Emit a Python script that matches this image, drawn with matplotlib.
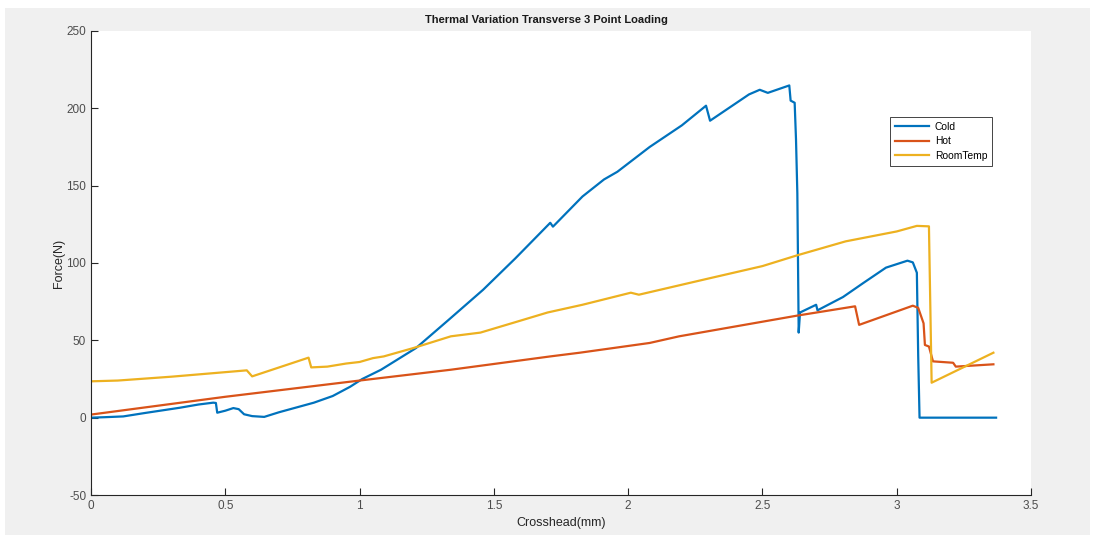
import matplotlib.pyplot as plt
from matplotlib.patches import Rectangle

# crosshead (mm) vs force (N)
cold_x = [0, 0.05, 0.12, 0.2, 0.33, 0.40, 0.455, 0.465, 0.47, 0.50, 0.53, 0.55, 0.57, 0.60, 0.645,
          0.70, 0.83, 0.90, 0.965, 1.01, 1.08, 1.21, 1.33, 1.46, 1.58, 1.71, 1.72, 1.83, 1.91, 1.96,
          2.08, 2.2, 2.29, 2.305, 2.45, 2.49, 2.52, 2.57, 2.6, 2.605, 2.62, 2.625, 2.63, 2.635, 2.64,
          2.7, 2.705, 2.8, 2.875, 2.96, 3.04, 3.06, 3.075, 3.08, 3.085, 3.37]
cold_y = [0, 0.3, 0.8, 3, 6.4, 8.5, 9.7, 9.5, 3.2, 4.5, 6.2, 5.5, 2.2, 1, 0.5,
          3.5, 9.7, 14, 20, 25, 31, 45, 63, 82.7, 103, 126, 123.5, 143, 154, 159,
          175, 189, 201.7, 192, 209, 212, 210, 213, 214.8, 205, 203.6, 180, 145, 55, 68,
          73, 69.4, 78, 87, 97, 101.5, 100.4, 93.7, 40, 0, 0]

hot_x = [0, 0.5, 1.0, 1.34, 1.71, 1.82, 2.08, 2.19, 2.4, 2.63, 2.845, 2.86, 3.06, 3.08, 3.1,
         3.105, 3.12, 3.135, 3.21, 3.22, 3.36]
hot_y = [2, 13.5, 24, 31, 39.6, 42, 48.3, 52.6, 59, 66, 72, 60, 72.4, 71, 61,
         47, 46, 36.4, 35.5, 33, 34.5]

room_x = [0, 0.1, 0.3, 0.58, 0.60, 0.81, 0.82, 0.88, 0.95, 1.0, 1.05, 1.09, 1.2, 1.34, 1.45,
          1.585, 1.7, 1.83, 2.01, 2.04, 2.3, 2.5, 2.63, 2.81, 3.0, 3.075, 3.12, 3.13, 3.36]
room_y = [23.5, 24, 26.5, 30.6, 26.7, 38.8, 32.5, 33, 35, 36, 38.5, 39.6, 45, 52.6, 55,
          62, 68, 73, 80.8, 79.5, 90, 98, 105, 114, 120.4, 124, 123.7, 22.6, 42]

x_ticks = [0, 0.5, 1, 1.5, 2, 2.5, 3, 3.5]
x_labels = ['0', '0.5', '1', '1.5', '2', '2.5', '3', '3.5']
y_ticks = [-50, 0, 50, 100, 150, 200, 250]

plt.rcParams['font.family'] = ['Liberation Sans', 'DejaVu Sans']
plt.rcParams['axes.unicode_minus'] = False

W, H = 1095, 540
fig = plt.figure(figsize=(W / 100, H / 100), dpi=100, facecolor='white')
# gray MATLAB figure panel with a thin white border round it
panel = Rectangle((5 / W, 5 / H), 1085 / W, 527 / H, transform=fig.transFigure,
                  facecolor='#f0f0f0', edgecolor='none', zorder=-10)
fig.add_artist(panel)

ax = fig.add_axes([91 / W, 45 / H, 940 / W, 464 / H])
ax.set_zorder(1)
ax.set_facecolor('white')

ax.plot(cold_x, cold_y, color='#0072BD', lw=1.6, label='Cold')
ax.plot(hot_x, hot_y, color='#D95319', lw=1.6, label='Hot')
ax.plot(room_x, room_y, color='#EDB120', lw=1.6, label='RoomTemp')

ax.set_xlim(0, 3.5)
ax.set_ylim(-50, 250)
ax.set_xticks(x_ticks)
ax.set_xticklabels(x_labels)
ax.set_yticks(y_ticks)
ax.tick_params(direction='in', length=5, width=0.8, colors='#262626', labelcolor='#4d4d4d',
               labelsize=8.5)
for s in ['top', 'right']:
    ax.spines[s].set_visible(False)
for s in ['left', 'bottom']:
    ax.spines[s].set_color('#262626')
    ax.spines[s].set_linewidth(0.8)

ax.set_xlabel('Crosshead(mm)', fontsize=9, color='#262626', labelpad=4)
ax.set_ylabel('Force(N)', fontsize=9, color='#262626', labelpad=1)
ax.set_title('Thermal Variation Transverse 3 Point Loading', fontsize=8, fontweight='bold',
             color='#1a1a1a', pad=6, x=0.485)

leg = ax.legend(loc='upper left', bbox_to_anchor=(890 / W, 1 - 117 / H),
                bbox_transform=fig.transFigure, borderaxespad=0, fontsize=7.4, fancybox=False,
                edgecolor='#262626', handlelength=3.3, borderpad=0.45, labelspacing=0.45,
                handletextpad=0.6, framealpha=1)
leg.get_frame().set_linewidth(0.6)

fig.savefig('out.png', dpi=100, facecolor=fig.get_facecolor())
